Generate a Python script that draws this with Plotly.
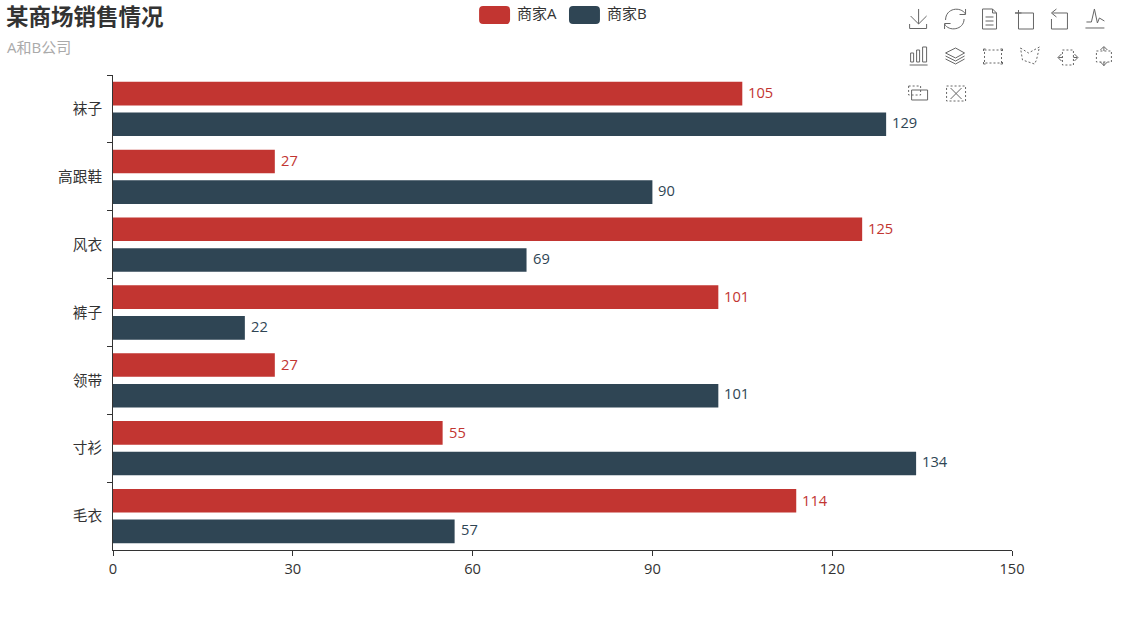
import re
import plotly.graph_objects as go

categories = ["袜子", "高跟鞋", "风衣", "裤子", "领带", "寸衫", "毛衣"]
series_a = [105, 27, 125, 101, 27, 55, 114]
series_b = [129, 90, 69, 22, 101, 134, 57]
x_ticks = [0, 30, 60, 90, 120, 150]
name_a = "商家A"
name_b = "商家B"
title_text = "某商场销售情况"
subtitle_text = "A和B公司"

W, H = 1125, 625
L, R, T, B = 112.5, 112.5, 75, 75
RED, BLUE = "#c23531", "#2f4554"
FONT = "Open Sans, Noto Sans CJK SC, sans-serif"
TITLE_FONT = "Noto Sans CJK SC, sans-serif"
LABEL_SIZE = 14.67


def px(x):
    return (x - L) / (W - L - R)


def py(y):
    return 1 - (y - T) / (H - T - B)


def conv(path):
    """Convert an SVG path written in page pixels to paper coordinates."""
    out = []
    for cmd, body in re.findall(r"([MLCQZ])([^MLCQZ]*)", path):
        nums = [float(n) for n in re.findall(r"-?[\d.]+", body)]
        pts = [f"{px(nums[i]):.5f},{py(nums[i + 1]):.5f}" for i in range(0, len(nums), 2)]
        out.append(cmd + " ".join(pts))
    return " ".join(out)


def icon(path, dash="solid", fill=None, color="#666", width=1):
    return dict(type="path", xref="paper", yref="paper", path=conv(path),
                line=dict(color=color, width=width, dash=dash),
                fillcolor=fill if fill else "rgba(0,0,0,0)", layer="above")


def pill(x0, x1, y0, y1, r, color):
    p = (f"M{x0 + r} {y0} L{x1 - r} {y0} Q{x1} {y0} {x1} {y0 + r} L{x1} {y1 - r} Q{x1} {y1} {x1 - r} {y1} "
         f"L{x0 + r} {y1} Q{x0} {y1} {x0} {y1 - r} L{x0} {y0 + r} Q{x0} {y0} {x0 + r} {y0} Z")
    return icon(p, fill=color, color=color, width=0)


D = "2px,2px"
shapes = [
    pill(479, 510, 6, 24, 4, RED),
    pill(569, 600, 6, 24, 4, BLUE),
    # download
    icon("M919 9 L919 24 M911 16 L919 24 L927 16 M910 24 L910 28.5 L927 28.5 L927 24"),
    # refresh
    icon("M946 20 C946 8 961 6 966 14 M966 9 L966 14.5 L960 14.5"),
    icon("M964.5 19 C964.5 30 949 32 945 24 M945 29 L945 23.5 L951 23.5"),
    # data view
    icon("M983 9 L993 9 L997 13 L997 29 L983 29 Z M993 9 L993 13 L997 13 M986 17 L994 17 M986 21 L994 21 M986 25 L994 25"),
    # zoom
    icon("M1015.5 13 L1034 13 L1034 29 L1019 29 L1019 10 M1015.5 13 L1022 13"),
    # back
    icon("M1053 13 L1068 13 L1068 29 L1052 29 L1052 19 M1052 13 L1057 9 M1052 13 L1057 17"),
    # line chart
    icon("M1086 28 L1105 28 M1087 22 L1092 22 L1095 9 L1098 23 L1100 18 L1105 21"),
    # bar chart
    icon("M910 65 L928 65"),
    icon("M911 53 L914 53 L914 62 L911 62 Z M917 50 L920 50 L920 62 L917 62 Z M923 47 L927 47 L927 62 L923 62 Z"),
    # stack
    icon("M956 48 L965 53 L956 58 L946 53 Z M946 56 L956 61 L965 56 M946 59 L956 64 L965 59"),
    # rect select
    icon("M985 50 L1002 50 L1002 63 L985 63 Z", dash=D),
    icon("M984 51 L984 49 L986 49 M1001 49 L1003 49 L1003 51 M984 62 L984 64 L986 64 M1001 64 L1003 64 L1003 62"),
    # polygon select
    icon("M1021 48 L1029 53 L1040 47 L1037 60 L1035 64 L1023 60 Z", dash=D),
    # horizontal keep
    icon("M1063 50 L1074 50 L1074 65 L1063 65 Z", dash=D),
    icon("M1063 57.5 L1059 57.5 M1062 54 L1058.5 57.5 L1062 61 M1074 57.5 L1078 57.5 M1075 54 L1078.5 57.5 L1075 61"),
    # vertical keep
    icon("M1097 51 L1112 51 L1112 62 L1097 62 Z", dash=D),
    icon("M1104.5 51 L1104.5 47 M1101 50 L1104.5 46.5 L1108 50 M1104.5 62 L1104.5 66 M1101 62 L1104.5 65.5 L1108 62"),
    # brush keep
    icon("M912 90 L928 90 L928 100 L912 100 Z"),
    icon("M909 86 L921 86 L921 95 L909 95 Z", dash=D),
    # clear
    icon("M947 86 L966 86 L966 101 L947 101 Z", dash=D),
    icon("M951 88 L962 99 M962 88 L951 99"),
]


def note(x, y, text, size, color, weight="normal", family=FONT):
    return dict(xref="paper", yref="paper", x=px(x), y=py(y), text=text, showarrow=False,
                xanchor="left", yanchor="middle",
                font=dict(family=family, size=size, color=color, weight=weight))


annotations = [
    note(3, 15, title_text, 22.5, "#333", "bold", TITLE_FONT),
    note(4, 47, subtitle_text, 15, "#aaa"),
    note(515, 13, name_a, 15, "#333"),
    note(605, 13, name_b, 15, "#333"),
]

fig = go.Figure()
for name, vals, col, shift in ((name_a, series_a, RED, 16.5), (name_b, series_b, BLUE, -13)):
    fig.add_trace(go.Bar(
        y=categories, x=vals, name=name, orientation="h",
        marker=dict(color=col, line=dict(width=0)), cliponaxis=False,
    ))
    for cat, v in zip(categories, vals):
        annotations.append(dict(
            xref="x", yref="y", x=v, y=cat, text=str(v), showarrow=False,
            xanchor="left", yanchor="middle", xshift=4, yshift=shift,
            font=dict(family=FONT, size=LABEL_SIZE, color=col),
        ))

axis_common = dict(showgrid=False, zeroline=False, showline=True, linecolor="#333", linewidth=1,
                   ticks="outside", ticklen=5, tickcolor="#333", tickwidth=1,
                   tickfont=dict(family=FONT, size=LABEL_SIZE, color="#333"))

fig.update_layout(
    width=W, height=H,
    margin=dict(l=L, r=R, t=T, b=B, autoexpand=False),
    paper_bgcolor="white", plot_bgcolor="white",
    barmode="group", bargap=0.096, bargroupgap=0.2308,
    showlegend=False,
    font=dict(family=FONT, color="#333"),
    xaxis=dict(range=[0, 150], tickmode="array", tickvals=x_ticks, **axis_common),
    yaxis=dict(type="category", categoryorder="array", categoryarray=categories,
               autorange="reversed", tickson="boundaries", ticklabelstandoff=7, **axis_common),
    shapes=shapes, annotations=annotations,
)

fig.write_html("out.html", config=dict(displayModeBar=False),
               post_script="document.body.style.margin='0';")
